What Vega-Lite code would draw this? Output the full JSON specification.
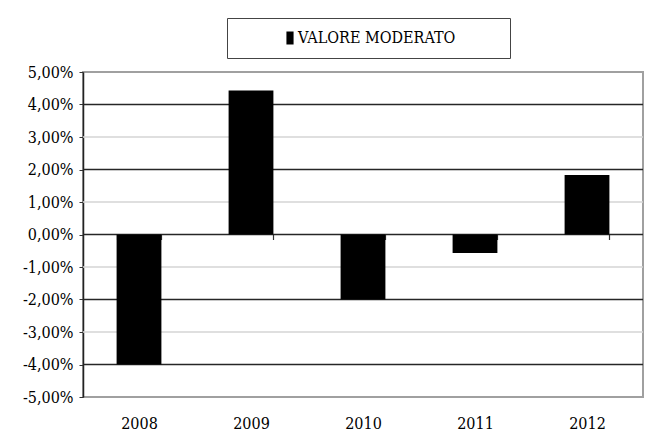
{
  "$schema": "https://vega.github.io/schema/vega-lite/v6.json",
  "width": 560,
  "height": 325,
  "autosize": {"type": "none"},
  "padding": {"left": 83, "top": 72, "right": 17, "bottom": 38},
  "background": "white",
  "config": {
    "font": "DejaVu Serif Condensed, DejaVu Serif",
    "view": {"stroke": "#a0a0a0", "strokeWidth": 2}
  },
  "layer": [
    {
      "data": {"values": [{"g": -3}, {"g": -1}, {"g": 1}, {"g": 3}]},
      "mark": {"type": "rule", "color": "#d4d4d4", "strokeWidth": 1.5},
      "encoding": {"y": {"field": "g", "type": "quantitative"}}
    },
    {
      "data": {"values": [{"g": -4}, {"g": -2}, {"g": 0}, {"g": 2}, {"g": 4}]},
      "mark": {"type": "rule", "color": "#262626", "strokeWidth": 1.3},
      "encoding": {"y": {"field": "g", "type": "quantitative"}}
    },
    {
      "data": {
        "values": [
          {"anno": "2008", "valore": -4.0, "serie": "VALORE MODERATO"},
          {"anno": "2009", "valore": 4.43, "serie": "VALORE MODERATO"},
          {"anno": "2010", "valore": -2.0, "serie": "VALORE MODERATO"},
          {"anno": "2011", "valore": -0.57, "serie": "VALORE MODERATO"},
          {"anno": "2012", "valore": 1.83, "serie": "VALORE MODERATO"}
        ]
      },
      "mark": {"type": "bar", "color": "#000"},
      "encoding": {
        "x": {
          "field": "anno",
          "type": "nominal",
          "scale": {"paddingInner": 0.6, "paddingOuter": 0.3},
          "axis": {
            "title": null,
            "orient": "bottom",
            "offset": -162.5,
            "labelAngle": 0,
            "labelFont": "DejaVu Serif Condensed, DejaVu Serif",
            "labelFontSize": 16,
            "labelColor": "#000",
            "labelPadding": 176,
            "ticks": true,
            "tickBand": "extent",
            "tickSize": 5,
            "tickColor": "#333",
            "tickWidth": 1.2,
            "domain": false,
            "grid": false
          }
        },
        "y": {
          "field": "valore",
          "type": "quantitative",
          "scale": {"domain": [-5, 5], "nice": false},
          "axis": {
            "title": null,
            "values": [-5, -4, -3, -2, -1, 0, 1, 2, 3, 4, 5],
            "tickCount": 20,
            "labelOverlap": false,
            "labelBound": false,
            "labelExpr": "(datum.value < 0 ? '-' : '') + replace(format(abs(datum.value), '.2f'), '.', ',') + '%'",
            "labelFont": "DejaVu Serif Condensed, DejaVu Serif",
            "labelFontSize": 16,
            "labelColor": "#000",
            "labelPadding": 6,
            "tickSize": 4,
            "tickColor": "#333",
            "domainColor": "#222",
            "domainWidth": 1.5,
            "grid": false
          }
        },
        "color": {
          "field": "serie",
          "type": "nominal",
          "scale": {"range": ["#000"]},
          "legend": {
            "title": null,
            "orient": "none",
            "legendX": 144,
            "legendY": -54,
            "strokeColor": "#444",
            "padding": 12,
            "symbolType": "M-0.55,-1H0.55V1H-0.55Z",
            "symbolSize": 169,
            "symbolStrokeWidth": 0,
            "symbolOffset": 43,
            "labelOffset": 0,
            "labelLimit": 500,
            "labelFont": "DejaVu Serif Condensed, DejaVu Serif",
            "labelFontSize": 16,
            "labelColor": "#000",
            "labelExpr": "datum.label + '\u2800\u2800\u2800\u2800'"
          }
        }
      }
    }
  ]
}
